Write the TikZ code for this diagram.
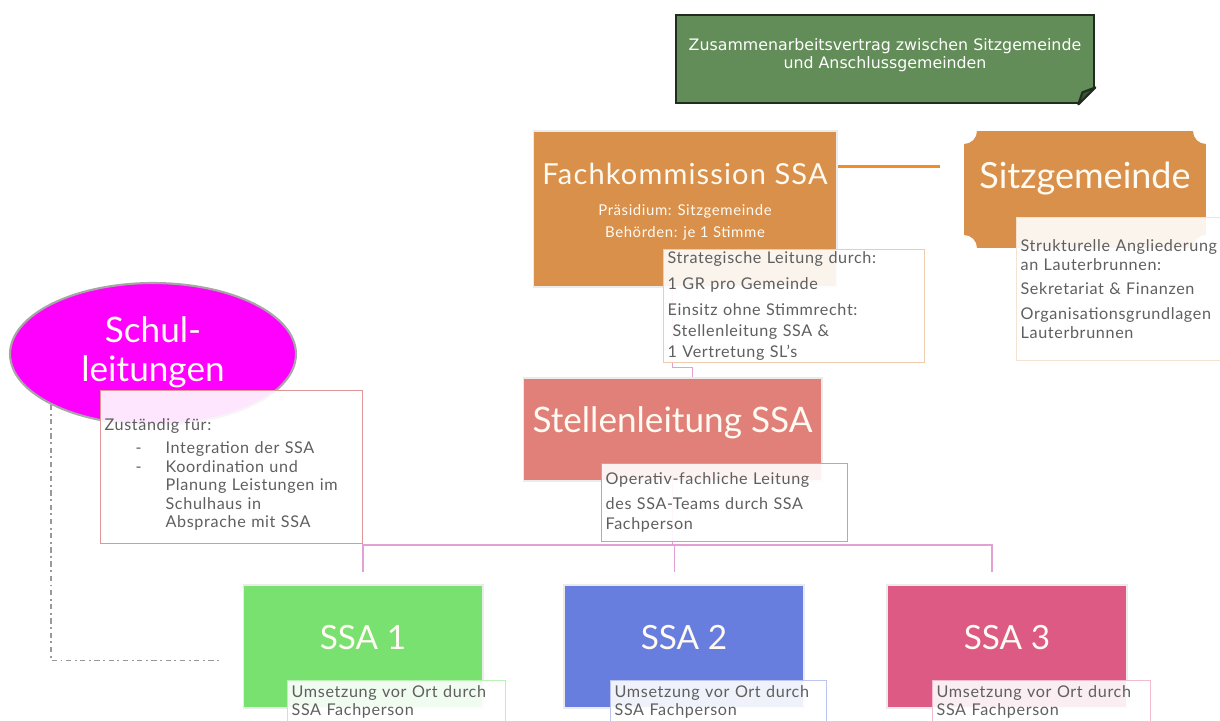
\documentclass[tikz,border=0pt]{standalone}
\usepackage{fontspec}
\setmainfont{Lato}
\newfontfamily\pactfont{DejaVu Sans}
\newfontfamily\notefont[LetterSpace=4]{Lato}
\usetikzlibrary{positioning,shapes.geometric,backgrounds}

\definecolor{pactgreen}{RGB}{98,140,88}
\definecolor{pactline}{RGB}{32,44,30}
\definecolor{fkorange}{RGB}{217,144,74}
\definecolor{linkorange}{RGB}{242,140,40}
\definecolor{slmagenta}{RGB}{255,0,255}
\definecolor{stellred}{RGB}{224,128,120}
\definecolor{ssagreen}{RGB}{120,225,112}
\definecolor{ssablue}{RGB}{104,126,222}
\definecolor{ssapink}{RGB}{220,90,132}
\definecolor{treepink}{RGB}{226,160,212}
\definecolor{notegray}{RGB}{95,95,95}
\definecolor{titlewhite}{RGB}{255,250,242}
\definecolor{schulrim}{RGB}{222,150,150}
\definecolor{stellrim}{RGB}{228,150,150}

\tikzset{
  headbox/.style = {rectangle, inner sep=0pt, text=titlewhite,
    font=\fontsize{20}{24}\selectfont, draw=black!8, line width=0.6pt},
  textlift/.style = {text height=0.5cm, text depth=#1},
  ssabox/.style = {headbox, textlift=0.4cm, fill=#1,
    minimum width=4.8cm, minimum height=2.46cm, font=\fontsize{19}{22}\selectfont},
  plaque/.style = {path picture={
    \fill[fkorange]
      ([xshift=0.26cm]path picture bounding box.north west)
      -- ([xshift=-0.26cm]path picture bounding box.north east)
      arc[start angle=180, end angle=270, radius=0.26cm]
      -- ([yshift=0.26cm]path picture bounding box.south east)
      arc[start angle=90, end angle=180, radius=0.26cm]
      -- ([xshift=0.26cm]path picture bounding box.south west)
      arc[start angle=0, end angle=90, radius=0.26cm]
      -- ([yshift=-0.26cm]path picture bounding box.north west)
      arc[start angle=270, end angle=360, radius=0.26cm] -- cycle;}},
  infonote/.style = {rectangle, anchor=north west, draw=#1, line width=0.7pt,
    fill=white, fill opacity=0.9, text opacity=1, text=notegray,
    align=left, inner xsep=0.08cm, inner ysep=0pt,
    font=\notefont\fontsize{9.2}{11.2}\selectfont},
  tree/.style = {draw=treepink, line width=0.9pt},
  kline/.style = {draw=linkorange, line width=1.8pt},
  slink/.style = {draw=black!40, line width=1.1pt, dash dot},
}

\begin{document}
\begin{tikzpicture}[x=0.02cm, y=-0.02cm]
    \useasboundingbox (0,0) rectangle (1220,720);

    \node[rectangle, fill=pactgreen, draw=pactline, line width=1.6pt,
          minimum width=8.36cm, minimum height=1.76cm, text=white, align=center,
          font=\pactfont\fontsize{9}{10.4}\selectfont] (pact) at (885,59)
          {Zusammenarbeitsvertrag zwischen Sitzgemeinde\\und Anschlussgemeinden\\[-4pt]\mbox{}};
    \fill[white] ([xshift=-0.34cm]pact.south east)
      -- ([xshift=-0.34cm,yshift=-2pt]pact.south east)
      -- ([xshift=2pt,yshift=-2pt]pact.south east)
      -- ([xshift=2pt,yshift=0.34cm]pact.south east)
      -- ([yshift=0.34cm]pact.south east) -- cycle;
    \filldraw[draw=pactline, fill=pactgreen!60!black, line width=1.2pt, line join=round]
      ([xshift=-0.34cm]pact.south east) -- ([yshift=0.34cm]pact.south east)
      -- ([xshift=-0.26cm,yshift=0.24cm]pact.south east) -- cycle;

    \node[headbox, fill=fkorange, minimum width=6.08cm, minimum height=3.12cm,
          align=center, font=\notefont\fontsize{8.5}{12.5}\selectfont] (fach) at (685,209)
          {{\fontsize{16.5}{20}\selectfont Fachkommission SSA}\\[5pt]
           Präsidium: Sitzgemeinde\\Behörden: je 1 Stimme\\[-3pt]\mbox{}};
    \node[headbox, textlift=0.56cm, fill=white, draw=none, plaque,
          font=\fontsize{20.5}{24}\selectfont,
          minimum width=4.84cm, minimum height=2.34cm,
          right=2.52cm of fach.north east, anchor=north west] (sitz) {Sitzgemeinde};

    \node[ellipse, fill=slmagenta, draw=black!35, line width=1.2pt,
          minimum width=5.72cm, minimum height=2.84cm, inner sep=0pt,
          text=titlewhite, align=center, font=\fontsize{20}{22}\selectfont]
          (schul) at (153,354) {Schul-\\leitungen\\[-16pt]\mbox{}};

    \node[headbox, textlift=0.38cm, fill=stellred, minimum width=5.98cm,
          minimum height=2.06cm] (stell) at (672.5,429.5) {Stellenleitung SSA};

    \node[ssabox=ssagreen] (ssa1) at (363,646.5) {SSA 1};
    \node[ssabox=ssablue, right=1.6cm of ssa1] (ssa2) {SSA 2};
    \node[ssabox=ssapink, right=1.64cm of ssa2] (ssa3) {SSA 3};

    \node[infonote=fkorange!45, text width=5.06cm, minimum height=2.26cm,
          font=\notefont\fontsize{9.2}{11.8}\selectfont]
      (fachnote) at (663,249)
      {Strategische Leitung durch:\\[3pt]
       1 GR pro Gemeinde\\[3pt]
       Einsitz ohne Stimmrecht:\\
       \hspace*{0.1cm}Stellenleitung SSA \&\\
       1 Vertretung SL’s};
    \node[infonote=fkorange!25, text width=4.24cm, minimum height=2.86cm,
          font=\notefont\fontsize{9.2}{10.8}\selectfont]
      (sitznote) at (1016,217)
      {Strukturelle Angliederung\\an Lauterbrunnen:\\[3pt]
       Sekretariat \& Finanzen\\[3pt]
       Organisationsgrundlagen\\Lauterbrunnen};
    \node[infonote=schulrim, text width=5.08cm,
          minimum height=3.06cm, font=\notefont\fontsize{9.2}{10.5}\selectfont]
      (schulnote) at (100,390)
      {\rule{0pt}{15pt}Zuständig für:\\[3pt]
       \makebox[1.22cm][l]{\hspace*{0.62cm}-}Integration der SSA\\
       \makebox[1.22cm][l]{\hspace*{0.62cm}-}Koordination und\\
       \hspace*{1.22cm}Planung Leistungen im\\
       \hspace*{1.22cm}Schulhaus in\\
       \hspace*{1.22cm}Absprache mit SSA};
    \node[infonote=stellrim, text width=4.76cm, minimum height=1.56cm]
      (stellnote) at (601,463)
      {Operativ-fachliche Leitung\\[3pt]des SSA-Teams durch SSA\\Fachperson};

    \node[infonote=ssagreen!50, text width=4.2cm, minimum height=0.84cm,
          font=\notefont\fontsize{9.2}{10.2}\selectfont]
      (ssanote1) at (287,680) {Umsetzung vor Ort durch\\SSA Fachperson};
    \node[infonote=ssablue!45, text width=4.16cm, minimum height=0.84cm,
          font=\notefont\fontsize{9.2}{10.2}\selectfont]
      (ssanote2) at (610,680) {Umsetzung vor Ort durch\\SSA Fachperson};
    \node[infonote=ssapink!40, text width=4.2cm, minimum height=0.84cm,
          font=\notefont\fontsize{9.2}{10.2}\selectfont]
      (ssanote3) at (932,680) {Umsetzung vor Ort durch\\SSA Fachperson};

    \begin{scope}[on background layer]
      \coordinate (bus) at (0,545);
      \draw[tree] (fach.south -| stell.north)
        |- ([xshift=0.4cm,yshift=0.2cm]stell.north) -- ([xshift=0.4cm]stell.north);
      \draw[tree] (stell.south) -- (stell.south |- bus);
      \foreach \s/\dx in {ssa1/0, ssa2/-0.19, ssa3/-0.3}
        \draw[tree] (stell.south |- bus) -| ([xshift=\dx cm,yshift=0.24cm]\s.north);
      \draw[kline] ([yshift=-0.72cm]fach.north east)
        -- ([xshift=-0.46cm,yshift=-0.72cm]sitz.north west);
      \draw[slink] (schul.south west) |- ([xshift=-0.42cm,yshift=-0.28cm]ssa1.west);
    \end{scope}
\end{tikzpicture}
\end{document}
